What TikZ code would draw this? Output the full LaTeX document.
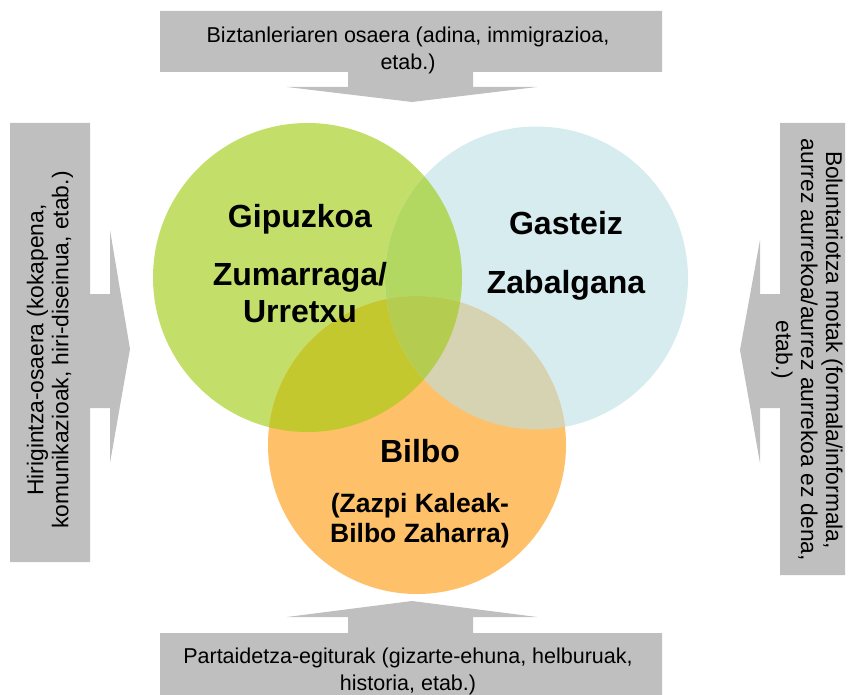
\documentclass[tikz,border=0pt]{standalone}
\usepackage{fontspec}
\setmainfont{Liberation Sans}
\usepackage{tikz}
\definecolor{calloutgray}{HTML}{BFBFBF}
\definecolor{gipgreen}{HTML}{C3DF6A}
\definecolor{gasblue}{HTML}{D6ECEF}
\definecolor{bilorange}{HTML}{FEC068}
\definecolor{gipgas}{HTML}{B3D862}
\definecolor{gipbil}{HTML}{C2C82E}
\definecolor{gasbil}{HTML}{D6D3B3}
\definecolor{allthree}{HTML}{B4CD50}

\begin{document}
\begin{tikzpicture}[x=1pt,y=-1pt,
	callout/.style={fill=calloutgray},
	flattext/.style={align=center,font=\fontsize{21.5}{27}\selectfont},
	sidetext/.style={align=center,font=\fontsize{22.8}{25}\selectfont},
	venntext/.style={font=\fontsize{32}{37}\selectfont\bfseries}
	]
	\useasboundingbox (0,0) rectangle (851,695);

	\coordinate (gipc) at (307.5,277.5);
	\coordinate (gasc) at (536.5,278);
	\coordinate (bilc) at (417,445);

	% circles
	\fill[gipgreen] (gipc) circle[radius=154.5pt];
	\fill[gasblue] (gasc) circle[radius=151.5pt];
	\fill[bilorange] (bilc) circle[radius=149pt];

	% overlaps
	\begin{scope}
	\clip (gipc) circle[radius=154.5pt];
	\fill[gipgas] (gasc) circle[radius=151.5pt];
	\fill[gipbil] (bilc) circle[radius=149pt];
	\end{scope}
	\begin{scope}
	\clip (gasc) circle[radius=151.5pt];
	\fill[gasbil] (bilc) circle[radius=149pt];
	\end{scope}
	\begin{scope}
	\clip (gipc) circle[radius=154.5pt];
	\clip (gasc) circle[radius=151.5pt];
	\fill[allthree] (bilc) circle[radius=149pt];
	\end{scope}

	% callout shapes
	\fill[callout] (160,11) -- (662,11) -- (662,72) -- (473,72) -- (473,87) -- (537,87)
	  -- (412,102) -- (287,87) -- (348,87) -- (348,72) -- (160,72) -- cycle;
	\fill[callout] (160,695) -- (160,633) -- (348,633) -- (348,617) -- (287,617)
	  -- (412,601) -- (537,617) -- (473,617) -- (473,633) -- (662,633) -- (662,695) -- cycle;
	\fill[callout] (10,123) -- (90,123) -- (90,294) -- (110,294) -- (110,230) -- (130,349)
	  -- (110,463) -- (110,408) -- (90,408) -- (90,562) -- (10,562) -- cycle;
	\fill[callout] (845,123) -- (780,123) -- (780,294) -- (760,294) -- (760,240) -- (740,350)
	  -- (760,463) -- (760,408) -- (780,408) -- (780,575) -- (845,575) -- cycle;

	%labels
	\node[flattext] (poplabel) at (408,50) {Biztanleriaren osaera (adina, immigrazioa,\\etab.)};
	\node[flattext] (partlabel) at (408,671) {Partaidetza-egiturak (gizarte-ehuna, helburuak,\\historia, etab.)};
	\node[sidetext,rotate=90] (urblabel) at (50,350) {Hirigintza-osaera (kokapena,\\komunikazioak, hiri-diseinua, etab.)};
	\node[sidetext,rotate=-90] (volulabel) at (807,350) {Boluntariotza motak (formala/informala,\\aurrez aurrekoa/aurrez aurrekoa ez dena,\\etab.)};

	\node[venntext,anchor=base] (gip) at (300,228) {Gipuzkoa};
	\node[venntext,align=center] (zum) at (300,293) {Zumarraga/\\Urretxu};
	\node[venntext,anchor=base] (gas) at (566,234) {Gasteiz};
	\node[venntext,anchor=base] (zab) at (566,293) {Zabalgana};
	\node[venntext,anchor=base] (bil) at (420,462) {Bilbo};
	\node[venntext,align=center,font=\fontsize{26.5}{30}\selectfont\bfseries] (zaz) at (420,521) {(Zazpi Kaleak-\\Bilbo Zaharra)};
\end{tikzpicture}
\end{document}
